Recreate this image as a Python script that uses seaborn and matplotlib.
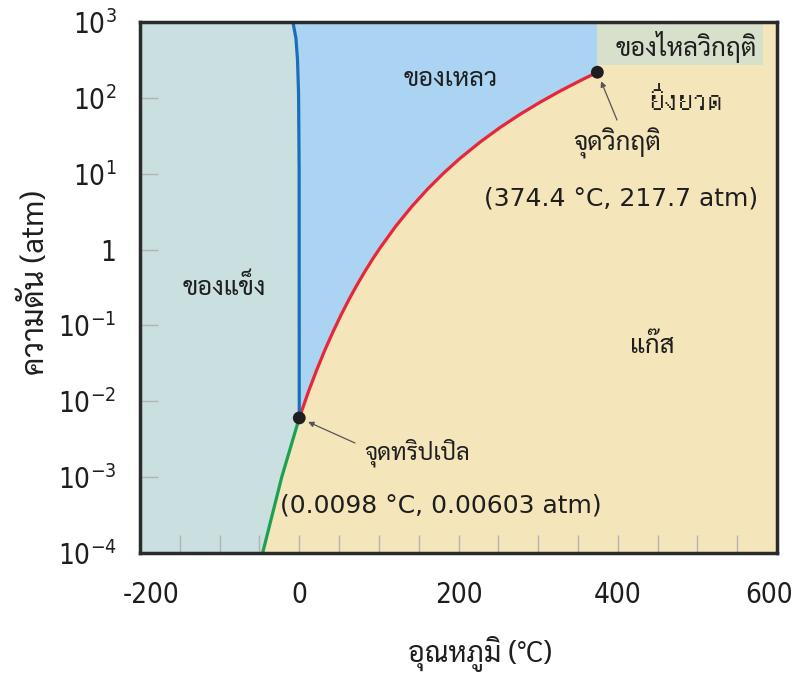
import numpy as np
import pandas as pd
import matplotlib
matplotlib.use("Agg")
import matplotlib.pyplot as plt
import matplotlib.transforms as mtransforms
import seaborn as sns
from matplotlib import font_manager as fm

# ---------------- data ----------------
# vaporization curve (liquid-gas)
vap_T = [0.0098, 10, 20, 30, 40, 50, 60, 70, 80, 90, 100, 120, 140, 160, 180,
         200, 225, 250, 275, 300, 325, 350, 374.4]
vap_P = [0.00603, 0.01212, 0.02308, 0.04191, 0.07287, 0.1219, 0.1969, 0.3079,
         0.4679, 0.6926, 1.0, 1.961, 3.568, 6.101, 9.897, 15.35, 25.15, 39.24,
         58.68, 84.76, 119.0, 163.1, 217.7]
# melting curve (solid-liquid)
melt_T = [0.0098, 0.0, -0.1, -0.7, -2.0, -4.0, -8.0]
melt_P = [0.00603, 1.0, 10.0, 100.0, 300.0, 600.0, 1000.0]
# sublimation curve (solid-gas)
sub_T = [0.0098, -22.0, -46.0]
sub_P = [0.00603, 1e-3, 1e-4]
# special points
triple = (0.0098, 0.00603)
critical = (374.4, 217.7)
# supercritical box
sc_T = [374.4, 582.0]
sc_P = [270.0, 1000.0]

x_ticks = [-200, 0, 200, 400, 600]
x_ticklabels = ["-200", "0", "200", "400", "600"]
y_ticks = [1e-4, 1e-3, 1e-2, 1e-1, 1, 10, 100, 1000]
y_ticklabels = [r"$\mathregular{10^{-4}}$", r"$\mathregular{10^{-3}}$", r"$\mathregular{10^{-2}}$",
                r"$\mathregular{10^{-1}}$", "1", r"$\mathregular{10^{1}}$",
                r"$\mathregular{10^{2}}$", r"$\mathregular{10^{3}}$"]

# ---------------- fonts ----------------
thai_fams = []
try:
    from fontTools.ttLib import TTFont
    for f in fm.fontManager.ttflist:
        try:
            tt = TTFont(f.fname, fontNumber=0, lazy=True)
            cmap = tt.getBestCmap()
            if cmap and 0x0E01 in cmap and 0x0E34 in cmap and 0x0E48 in cmap:
                if f.name not in thai_fams:
                    thai_fams.append(f.name)
        except Exception:
            pass
except Exception:
    pass
pref = ["Sarabun", "Loop", "Tahoma", "Garuda", "Loma", "Norasi", "Kinnari", "Waree", "Tlwg"]
def _rank(n):
    for i, p in enumerate(pref):
        if p.lower() in n.lower():
            return i
    return len(pref)
plain_thai = [n for n in thai_fams if _rank(n) == len(pref)]
looped_thai = sorted(thai_fams, key=_rank)
THAI = looped_thai[:1]
THAI_PLAIN = (plain_thai or looped_thai)[:1]

# condensed font for tick labels (regular weight preferred)
cond_fp = None
cond_pref = ["Liberation Sans Narrow", "DejaVu Sans", "Roboto Condensed", "Noto Sans",
             "Open Sans", "Open Sans Condensed", "Liberation Sans"]
best = None
for f in fm.fontManager.ttflist:
    isc = f.stretch not in ("normal", 500) or "narrow" in f.name.lower() or "condensed" in f.name.lower()
    if not isc or f.style != "normal":
        continue
    w = f.weight
    if w in (400, "normal", "regular", "book"):
        wr = 0
    elif w in (300, "light"):
        wr = 1
    elif w in (500, "medium"):
        wr = 2
    else:
        continue
    r = (wr, cond_pref.index(f.name) if f.name in cond_pref else len(cond_pref))
    if best is None or r < best[0]:
        best = (r, f)
if best is not None:
    f = best[1]
    cond_fp = fm.FontProperties(fname=f.fname)

sns.set_theme(style="white")
plt.rcParams["font.family"] = THAI + ["DejaVu Sans"]
plt.rcParams["axes.unicode_minus"] = False
if cond_fp is not None:
    tick_size = 20
    fam_name = best[1].name
    plt.rcParams["mathtext.fontset"] = "custom"
    pat = f"{fam_name}:weight={best[1].weight}:stretch={best[1].stretch}"
    for k in ("rm", "it", "bf", "sf"):
        plt.rcParams["mathtext." + k] = pat
else:
    tick_size = 16
    plt.rcParams["mathtext.fontset"] = "dejavusans"

INK = "#1e1e1e"

# ---------------- figure ----------------
fig = plt.figure(figsize=(7.95, 6.75), dpi=100)
ax = fig.add_axes([140 / 795, 1 - 553 / 675, 637 / 795, 531 / 675])
ax.set_yscale("log")
ax.set_xlim(-200, 600)
ax.set_ylim(1e-4, 1e3)
ax.set_axisbelow(False)

C_GAS = "#f5e5bb"
C_SOLID = "#c9dfe0"
C_LIQ = "#aad4f1"
C_SC = "#d7e0cb"

ax.set_facecolor(C_GAS)

ly = np.linspace(-4, 3, 800)
ly_melt = np.log10(melt_P)
ly_sub = np.log10(sub_P)[::-1]
x_sub = np.array(sub_T)[::-1]
x_melt = np.interp(ly, ly_melt, melt_T)
x_solid = np.where(ly < np.log10(triple[1]), np.interp(ly, ly_sub, x_sub), x_melt)
yy = 10 ** ly

ax.fill_betweenx(yy, -200, x_solid, color=C_SOLID, lw=0, zorder=1)
ly_vap = np.log10(vap_P)
mask = ly >= np.log10(triple[1])
x_vap = np.where(ly <= np.log10(critical[1]), np.interp(ly, ly_vap, vap_T), critical[0])
ax.fill_betweenx(yy[mask], x_melt[mask], x_vap[mask], color=C_LIQ, lw=0, zorder=1)
ax.fill_between(sc_T, sc_P[0], sc_P[1], color=C_SC, lw=0, zorder=1)

T_dense = np.linspace(vap_T[0], vap_T[-1], 600)
P_dense = 10 ** np.interp(T_dense, vap_T, ly_vap)
df_vap = pd.DataFrame({"T": T_dense, "P": P_dense})
df_melt = pd.DataFrame({"T": x_melt[mask], "P": yy[mask]})
df_sub = pd.DataFrame({"T": sub_T, "P": sub_P})
sns.lineplot(data=df_vap, x="T", y="P", sort=False, color="#e8263a", lw=2.3, ax=ax, zorder=3)
sns.lineplot(data=df_melt, x="T", y="P", sort=False, color="#1b6fba", lw=2.3, ax=ax, zorder=3)
sns.lineplot(data=df_sub, x="T", y="P", sort=False, color="#1aa152", lw=2.3, ax=ax, zorder=3)

pts = pd.DataFrame({"T": [triple[0], critical[0]], "P": [triple[1], critical[1]]})
sns.scatterplot(data=pts, x="T", y="P", color=INK, s=85, edgecolor="none", ax=ax, zorder=5)

# annotations
tkw = dict(transform=ax.transAxes, ha="center", va="center", fontsize=18.5, color=INK, zorder=6)
nkw = dict(transform=ax.transAxes, ha="center", va="center", fontsize=18, color=INK, zorder=6,
           family="DejaVu Sans")
ax.text(0.487, 0.891, "ของเหลว", **tkw)
ax.text(0.133, 0.499, "ของแข็ง", **tkw)
ax.text(0.804, 0.388, "แก๊ส", **tkw)
ax.text(0.857, 0.953, "ของไหลวิกฤติ", **tkw)
ax.text(0.856, 0.853, "ยิ่งยวด", **dict(tkw, fontsize=21, family=THAI_PLAIN + ["DejaVu Sans"]))
ax.text(0.749, 0.772, "จุดวิกฤติ", **tkw)
ax.text(0.755, 0.667, "(374.4 °C, 217.7 atm)", **nkw)
ax.text(0.435, 0.188, "จุดทริปเปิล", **dict(tkw, fontsize=17))
ax.text(0.473, 0.089, "(0.0098 °C, 0.00603 atm)", **nkw)

akw = dict(arrowstyle="-|>", color="#555555", lw=0.9, mutation_scale=8, shrinkA=0, shrinkB=7)
ax.annotate("", xy=triple, xycoords="data",
            xytext=((355 - 140) / 637, (553 - 443) / 531), textcoords="axes fraction",
            arrowprops=akw, zorder=6)
ax.annotate("", xy=critical, xycoords="data",
            xytext=((617 - 140) / 637, (553 - 120) / 531), textcoords="axes fraction",
            arrowprops=akw, zorder=6)

# ticks
ax.set_xticks(x_ticks)
ax.set_xticklabels(x_ticklabels)
ax.set_xticks(np.arange(-200, 601, 50), minor=True)
ax.set_yticks(y_ticks)
ax.set_yticklabels(y_ticklabels)
ax.yaxis.set_minor_locator(matplotlib.ticker.NullLocator())
ax.tick_params(axis="x", which="both", direction="in", length=13, width=1, color="#b3b3b3",
               bottom=True, top=False, labelsize=tick_size, pad=20)
ax.tick_params(axis="y", which="major", direction="in", length=13, width=1, color="#b3b3b3",
               left=True, right=False, labelsize=tick_size, pad=17)
for lab in ax.get_xticklabels() + ax.get_yticklabels():
    lab.set_color(INK)
    if cond_fp is not None:
        fp = cond_fp.copy()
        fp.set_size(tick_size)
        lab.set_fontproperties(fp)
    else:
        lab.set_family("DejaVu Sans")

# nudge the end labels inward as in the reference
mticks = ax.xaxis.get_major_ticks()
for t, dx in ((mticks[0], 11), (mticks[-1], -8)):
    t.label1.set_transform(t.label1.get_transform()
                           + mtransforms.ScaledTranslation(dx / 100, 0, fig.dpi_scale_trans))

for s in ax.spines.values():
    s.set_color("#2a2a2a")
    s.set_linewidth(2.5)
    s.set_zorder(7)

ax.set_xlabel("อุณหภูมิ (°C)", fontsize=20.5, color=INK)
ax.set_ylabel("ความดัน (atm)", fontsize=22, color=INK)
ax.yaxis.set_label_coords(-(140 - 52) / 637, (553 - 283) / 531)
ax.xaxis.set_label_coords((480 - 140) / 637, -(636 - 553) / 531)

fig.savefig("out.png", dpi=100)
